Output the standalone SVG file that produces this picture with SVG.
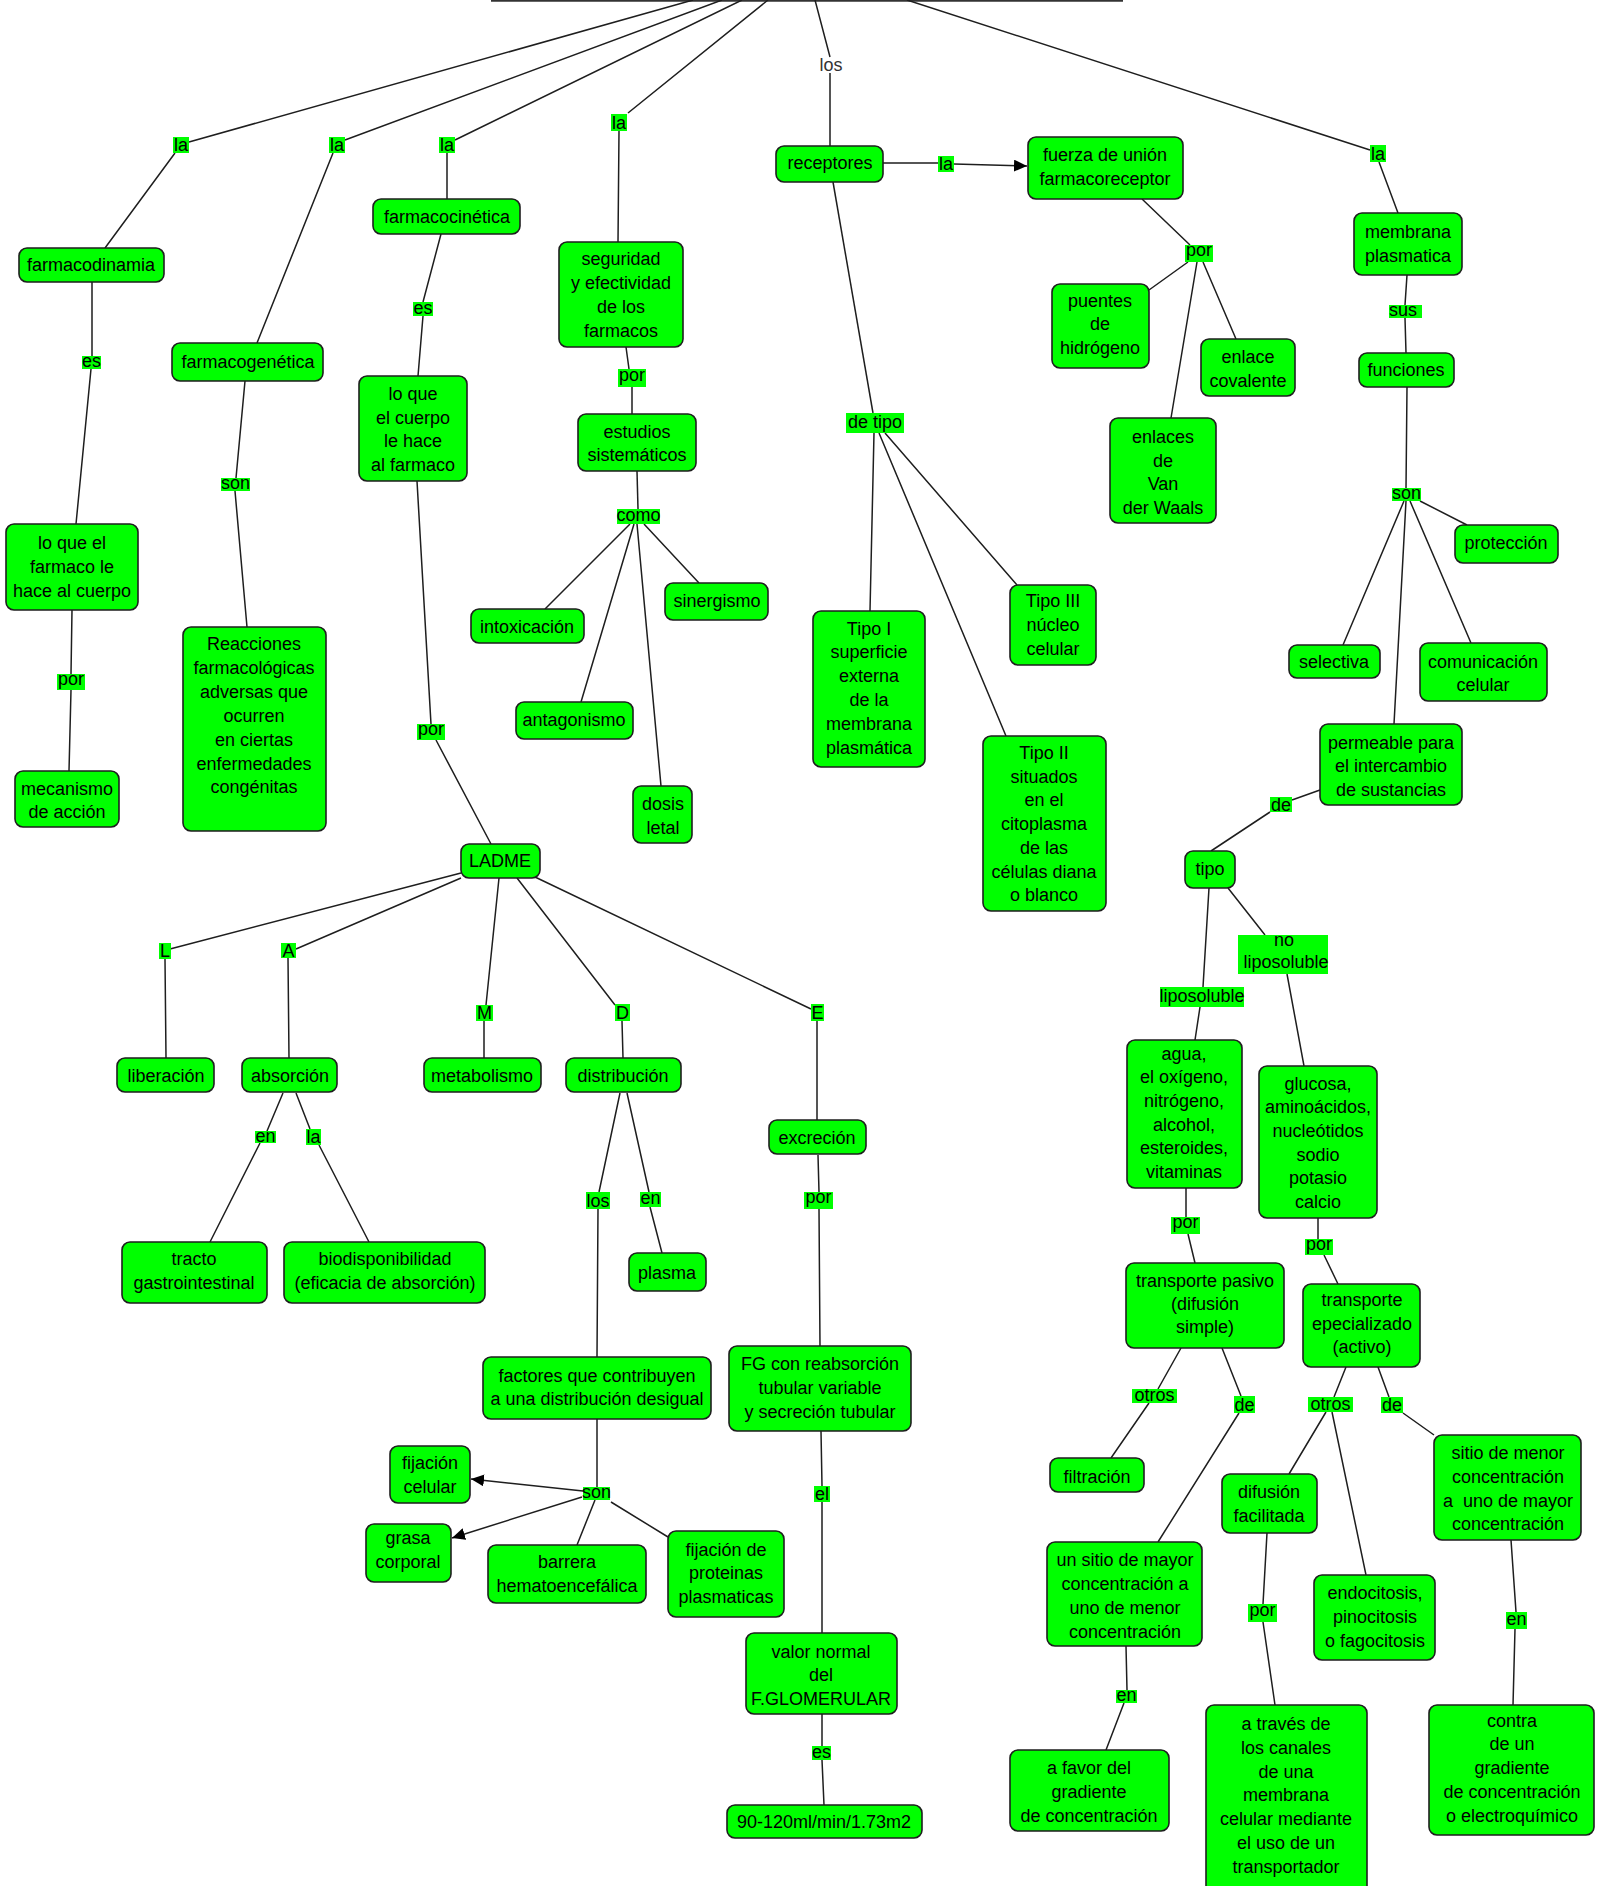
<svg xmlns="http://www.w3.org/2000/svg" width="1599" height="1886" viewBox="0 0 1599 1886">
<defs>
<style>
.n rect{fill:#00ff00;stroke:#1e1e1e;stroke-width:1.6}
text{font-family:"Liberation Sans",Arial,sans-serif;font-size:18px;fill:#000;text-anchor:middle}
.lb rect{fill:#00ff00}
.c path{stroke:#1e1e1e;stroke-width:1.5;fill:none}
.pre{white-space:pre}
</style>
<marker id="ah" markerUnits="userSpaceOnUse" markerWidth="14" markerHeight="12" refX="13" refY="6" orient="auto"><path d="M0,0 L13,6 L0,12 z" fill="#000"/></marker>
</defs>
<rect width="1599" height="1886" fill="#fff"/>
<g id="root"><path d="M491 0.8 H1123" stroke="#333" stroke-width="2"/></g>
<g class="c" id="connectors">
<path d="M175 153 L105 248 M189 142 L693 0"/>
<path d="M333 153 L257 343 M345 140 L722 0"/>
<path d="M447 153 L447 199 M455 140 L742 0"/>
<path d="M619 131 L618 242 M628 113 L768 0"/>
<path d="M815 0 L830 57 M830 73 L830 146"/>
<path d="M907 0 L1370 150 M1379 162 L1398 213"/>
<path d="M883 163 L938 163"/>
<path d="M954 164 L1027 166" marker-end="url(#ah)"/>
<path d="M92 282 L92 356 M91 369 L76 524"/>
<path d="M72 610 L71 674 M71 690 L69 771"/>
<path d="M245 381 L236 478 M235 491 L247 627"/>
<path d="M441 234 L423 302 M423 316 L418 376"/>
<path d="M417 481 L431 724 M436 740 L491 844"/>
<path d="M626 347 L629 369 M632 387 L632 414"/>
<path d="M637 471 L638 509"/>
<path d="M630 524 L545 609 M634 524 L581 702 M637 524 L661 786 M644 524 L699 583"/>
<path d="M833 182 L873 413"/>
<path d="M874 433 L870 611 M879 433 L1006 736 M885 433 L1017 585"/>
<path d="M1142 199 L1190 245 M1188 262 L1149 290 M1203 262 L1236 339 M1197 262 L1171 418"/>
<path d="M1407 275 L1405 305 M1405 318 L1406 353 M1407 387 L1406 488"/>
<path d="M1420 501 L1467 525 M1404 501 L1343 645 M1406 501 L1394 724 M1410 501 L1471 643"/>
<path d="M1320 790 L1292 800 M1270 812 L1211 851"/>
<path d="M1209 888 L1203 987 M1228 888 L1265 935"/>
<path d="M1200 1007 L1195 1040 M1287 974 L1304 1066"/>
<path d="M1186 1188 L1186 1217 M1188 1234 L1195 1263"/>
<path d="M1318 1218 L1318 1239 M1324 1255 L1338 1284"/>
<path d="M1181 1348 L1158 1389 M1149 1403 L1111 1458"/>
<path d="M1222 1348 L1241 1396 M1239 1413 L1158 1542"/>
<path d="M1126 1646 L1127 1690 M1124 1703 L1106 1750"/>
<path d="M1346 1367 L1334 1397 M1326 1412 L1289 1474 M1332 1412 L1366 1575"/>
<path d="M1378 1367 L1389 1397 M1403 1413 L1434 1435"/>
<path d="M1267 1533 L1263 1604 M1263 1622 L1275 1705"/>
<path d="M1511 1540 L1516 1612 M1515 1629 L1513 1705"/>
<path d="M461 873 L170 949 M165 959 L166 1058"/>
<path d="M461 878 L296 949 M288 958 L289 1058"/>
<path d="M499 878 L486 1005 M484 1021 L484 1058"/>
<path d="M517 878 L615 1005 M622 1021 L623 1058"/>
<path d="M535 877 L811 1009 M817 1021 L817 1120"/>
<path d="M283 1093 L267 1131 M260 1143 L210 1242"/>
<path d="M296 1093 L310 1129 M319 1145 L369 1242"/>
<path d="M620 1093 L599 1192 M598 1209 L597 1357"/>
<path d="M627 1093 L649 1192 M650 1207 L662 1253"/>
<path d="M818 1155 L819 1192 M819 1209 L820 1346"/>
<path d="M821 1431 L822 1486 M822 1502 L822 1633"/>
<path d="M822 1714 L822 1746 M822 1760 L824 1805"/>
<path d="M597 1419 L597 1487"/>
<path d="M583 1491 L471 1479" marker-end="url(#ah)"/>
<path d="M582 1497 L452 1538" marker-end="url(#ah)"/>
<path d="M595 1500 L577 1545 M611 1502 L668 1537"/>
</g>
<g class="lb" id="labels">
<text x="831" y="71" style="fill:#333">los</text>
<rect x="173" y="137" width="16" height="16"/><text x="181" y="151">la</text>
<rect x="329" y="137" width="16" height="16"/><text x="337" y="151">la</text>
<rect x="439" y="137" width="16" height="16"/><text x="447" y="151">la</text>
<rect x="611" y="114" width="16" height="17"/><text x="619" y="129">la</text>
<rect x="938" y="156" width="16" height="16"/><text x="946" y="170">la</text>
<rect x="1370" y="145" width="16" height="17"/><text x="1378" y="160">la</text>
<rect x="82" y="356" width="19" height="13"/><text x="91.5" y="367">es</text>
<rect x="413" y="302" width="20" height="14"/><text x="423" y="314">es</text>
<rect x="221" y="478" width="29" height="13"/><text x="235.5" y="489">son</text>
<rect x="57" y="674" width="28" height="16"/><text x="71" y="685">por</text>
<rect x="417" y="724" width="28" height="16"/><text x="431" y="735">por</text>
<rect x="618" y="369" width="28" height="18"/><text x="632" y="381">por</text>
<rect x="1185" y="245" width="28" height="17"/><text x="1199" y="256">por</text>
<rect x="846" y="413" width="58" height="20"/><text x="875" y="428">de tipo</text>
<rect x="617" y="509" width="43" height="15"/><text x="638.5" y="521">como</text>
<rect x="1389" y="305" width="33" height="13"/><text x="1403" y="316">sus</text>
<rect x="1392" y="488" width="29" height="13"/><text x="1406.5" y="499">son</text>
<rect x="1270" y="797" width="22" height="15"/><text x="1281" y="811">de</text>
<rect x="1160" y="987" width="84" height="20"/><text x="1202" y="1002">liposoluble</text>
<rect x="1238" y="935" width="90" height="39"/><text x="1284" y="946">no</text><text x="1286" y="968">liposoluble</text>
<rect x="1171" y="1217" width="29" height="17"/><text x="1185.5" y="1228">por</text>
<rect x="1305" y="1239" width="28" height="16"/><text x="1319" y="1250">por</text>
<rect x="1132" y="1389" width="45" height="14"/><text x="1154.5" y="1401">otros</text>
<rect x="1234" y="1396" width="21" height="17"/><text x="1244.5" y="1411">de</text>
<rect x="1308" y="1397" width="45" height="15"/><text x="1330.5" y="1410">otros</text>
<rect x="1381" y="1397" width="22" height="16"/><text x="1392" y="1411">de</text>
<rect x="1116" y="1690" width="21" height="13"/><text x="1126.5" y="1701">en</text>
<rect x="1248" y="1604" width="29" height="18"/><text x="1262.5" y="1616">por</text>
<rect x="1506" y="1612" width="21" height="17"/><text x="1516.5" y="1625">en</text>
<rect x="159" y="943" width="12" height="16"/><text x="165" y="957">L</text>
<rect x="281" y="943" width="15" height="15"/><text x="288.5" y="957">A</text>
<rect x="476" y="1005" width="17" height="16"/><text x="484.5" y="1019">M</text>
<rect x="615" y="1004" width="15" height="17"/><text x="622.5" y="1019">D</text>
<rect x="811" y="1004" width="13" height="17"/><text x="817.5" y="1019">E</text>
<rect x="255" y="1131" width="21" height="12"/><text x="265.5" y="1142">en</text>
<rect x="306" y="1129" width="15" height="16"/><text x="313.5" y="1143">la</text>
<rect x="586" y="1192" width="24" height="17"/><text x="598" y="1207">los</text>
<rect x="640" y="1192" width="21" height="15"/><text x="650.5" y="1204">en</text>
<rect x="804" y="1192" width="29" height="17"/><text x="818.5" y="1203">por</text>
<rect x="583" y="1487" width="27" height="13"/><text x="596.5" y="1498">son</text>
<rect x="814" y="1486" width="16" height="16"/><text x="822" y="1500">el</text>
<rect x="812" y="1746" width="19" height="14"/><text x="821.5" y="1758">es</text>
</g>
<g class="n" id="n-farmacodinamia"><rect x="19" y="248" width="145" height="34" rx="8"/><text><tspan x="91" y="271">farmacodinamia</tspan></text></g>
<g class="n" id="n-farmacogenetica"><rect x="172" y="343" width="151" height="38" rx="8"/><text><tspan x="248" y="368">farmacogenética</tspan></text></g>
<g class="n" id="n-farmacocinetica"><rect x="373" y="199" width="147" height="35" rx="8"/><text><tspan x="447" y="223">farmacocinética</tspan></text></g>
<g class="n" id="n-cuerpo"><rect x="359" y="376" width="108" height="105" rx="8"/><text><tspan x="413" y="400">lo que</tspan><tspan x="413" y="424">el cuerpo</tspan><tspan x="413" y="447">le hace</tspan><tspan x="413" y="471">al farmaco</tspan></text></g>
<g class="n" id="n-farmaco"><rect x="6" y="524" width="132" height="86" rx="8"/><text><tspan x="72" y="549">lo que el</tspan><tspan x="72" y="573">farmaco le</tspan><tspan x="72" y="597">hace al cuerpo</tspan></text></g>
<g class="n" id="n-mecanismo"><rect x="15" y="771" width="104" height="56" rx="8"/><text><tspan x="67" y="795">mecanismo</tspan><tspan x="67" y="818">de acción</tspan></text></g>
<g class="n" id="n-reacciones"><rect x="183" y="627" width="143" height="204" rx="8"/><text><tspan x="254" y="650">Reacciones</tspan><tspan x="254" y="674">farmacológicas</tspan><tspan x="254" y="698">adversas que</tspan><tspan x="254" y="722">ocurren</tspan><tspan x="254" y="746">en ciertas</tspan><tspan x="254" y="770">enfermedades</tspan><tspan x="254" y="793">congénitas</tspan></text></g>
<g class="n" id="n-seguridad"><rect x="559" y="242" width="124" height="105" rx="8"/><text><tspan x="621" y="265">seguridad</tspan><tspan x="621" y="289">y efectividad</tspan><tspan x="621" y="313">de los</tspan><tspan x="621" y="337">farmacos</tspan></text></g>
<g class="n" id="n-estudios"><rect x="578" y="414" width="118" height="57" rx="8"/><text><tspan x="637" y="438">estudios</tspan><tspan x="637" y="461">sistemáticos</tspan></text></g>
<g class="n" id="n-receptores"><rect x="776" y="146" width="107" height="36" rx="8"/><text><tspan x="830" y="169">receptores</tspan></text></g>
<g class="n" id="n-fuerza"><rect x="1028" y="137" width="155" height="62" rx="8"/><text><tspan x="1105" y="161">fuerza de unión</tspan><tspan x="1105" y="185">farmacoreceptor</tspan></text></g>
<g class="n" id="n-puentes"><rect x="1052" y="284" width="97" height="84" rx="8"/><text><tspan x="1100" y="307">puentes</tspan><tspan x="1100" y="330">de</tspan><tspan x="1100" y="354">hidrógeno</tspan></text></g>
<g class="n" id="n-covalente"><rect x="1201" y="339" width="94" height="57" rx="8"/><text><tspan x="1248" y="363">enlace</tspan><tspan x="1248" y="387">covalente</tspan></text></g>
<g class="n" id="n-waals"><rect x="1110" y="418" width="106" height="105" rx="8"/><text><tspan x="1163" y="443">enlaces</tspan><tspan x="1163" y="467">de</tspan><tspan x="1163" y="490">Van</tspan><tspan x="1163" y="514">der Waals</tspan></text></g>
<g class="n" id="n-membrana"><rect x="1354" y="213" width="108" height="62" rx="8"/><text><tspan x="1408" y="238">membrana</tspan><tspan x="1408" y="262">plasmatica</tspan></text></g>
<g class="n" id="n-funciones"><rect x="1359" y="353" width="95" height="34" rx="8"/><text><tspan x="1406" y="376">funciones</tspan></text></g>
<g class="n" id="n-proteccion"><rect x="1455" y="525" width="103" height="38" rx="8"/><text><tspan x="1506" y="549">protección</tspan></text></g>
<g class="n" id="n-selectiva"><rect x="1289" y="645" width="91" height="33" rx="8"/><text><tspan x="1334" y="668">selectiva</tspan></text></g>
<g class="n" id="n-comunicacion"><rect x="1420" y="643" width="127" height="58" rx="8"/><text><tspan x="1483" y="668">comunicación</tspan><tspan x="1483" y="691">celular</tspan></text></g>
<g class="n" id="n-permeable"><rect x="1320" y="724" width="142" height="81" rx="8"/><text><tspan x="1391" y="749">permeable para</tspan><tspan x="1391" y="772">el intercambio</tspan><tspan x="1391" y="796">de sustancias</tspan></text></g>
<g class="n" id="n-tipo"><rect x="1185" y="851" width="50" height="37" rx="8"/><text><tspan x="1210" y="875">tipo</tspan></text></g>
<g class="n" id="n-agua"><rect x="1127" y="1040" width="115" height="148" rx="8"/><text><tspan x="1184" y="1060">agua,</tspan><tspan x="1184" y="1083">el oxígeno,</tspan><tspan x="1184" y="1107">nitrógeno,</tspan><tspan x="1184" y="1131">alcohol,</tspan><tspan x="1184" y="1154">esteroides,</tspan><tspan x="1184" y="1178">vitaminas</tspan></text></g>
<g class="n" id="n-glucosa"><rect x="1259" y="1066" width="118" height="152" rx="8"/><text><tspan x="1318" y="1090">glucosa,</tspan><tspan x="1318" y="1113">aminoácidos,</tspan><tspan x="1318" y="1137">nucleótidos</tspan><tspan x="1318" y="1161">sodio</tspan><tspan x="1318" y="1184">potasio</tspan><tspan x="1318" y="1208">calcio</tspan></text></g>
<g class="n" id="n-pasivo"><rect x="1126" y="1263" width="158" height="85" rx="8"/><text><tspan x="1205" y="1287">transporte pasivo</tspan><tspan x="1205" y="1310">(difusión</tspan><tspan x="1205" y="1333">simple)</tspan></text></g>
<g class="n" id="n-especializado"><rect x="1303" y="1284" width="117" height="83" rx="8"/><text><tspan x="1362" y="1306">transporte</tspan><tspan x="1362" y="1330">epecializado</tspan><tspan x="1362" y="1353">(activo)</tspan></text></g>
<g class="n" id="n-filtracion"><rect x="1050" y="1458" width="94" height="34" rx="8"/><text><tspan x="1097" y="1483">filtración</tspan></text></g>
<g class="n" id="n-mayor"><rect x="1047" y="1542" width="155" height="104" rx="8"/><text><tspan x="1125" y="1566">un sitio de mayor</tspan><tspan x="1125" y="1590">concentración a</tspan><tspan x="1125" y="1614">uno de menor</tspan><tspan x="1125" y="1638">concentración</tspan></text></g>
<g class="n" id="n-favor"><rect x="1010" y="1750" width="159" height="81" rx="8"/><text><tspan x="1089" y="1774">a favor del</tspan><tspan x="1089" y="1798">gradiente</tspan><tspan x="1089" y="1822">de concentración</tspan></text></g>
<g class="n" id="n-difusion"><rect x="1222" y="1474" width="95" height="59" rx="8"/><text><tspan x="1269" y="1498">difusión</tspan><tspan x="1269" y="1522">facilitada</tspan></text></g>
<g class="n" id="n-traves"><rect x="1206" y="1705" width="161" height="190" rx="8"/><text><tspan x="1286" y="1730">a través de</tspan><tspan x="1286" y="1754">los canales</tspan><tspan x="1286" y="1778">de una</tspan><tspan x="1286" y="1801">membrana</tspan><tspan x="1286" y="1825">celular mediante</tspan><tspan x="1286" y="1849">el uso de un</tspan><tspan x="1286" y="1873">transportador</tspan></text></g>
<g class="n" id="n-endocitosis"><rect x="1314" y="1575" width="121" height="85" rx="8"/><text><tspan x="1375" y="1599">endocitosis,</tspan><tspan x="1375" y="1623">pinocitosis</tspan><tspan x="1375" y="1647">o fagocitosis</tspan></text></g>
<g class="n" id="n-menor"><rect x="1434" y="1435" width="147" height="105" rx="8"/><text class="pre"><tspan x="1508" y="1459">sitio de menor</tspan><tspan x="1508" y="1483">concentración</tspan><tspan x="1508" y="1507">a  uno de mayor</tspan><tspan x="1508" y="1530">concentración</tspan></text></g>
<g class="n" id="n-contra"><rect x="1429" y="1705" width="165" height="130" rx="8"/><text><tspan x="1512" y="1727">contra</tspan><tspan x="1512" y="1750">de un</tspan><tspan x="1512" y="1774">gradiente</tspan><tspan x="1512" y="1798">de concentración</tspan><tspan x="1512" y="1822">o electroquímico</tspan></text></g>
<g class="n" id="n-intoxicacion"><rect x="471" y="609" width="113" height="34" rx="8"/><text><tspan x="527" y="633">intoxicación</tspan></text></g>
<g class="n" id="n-antagonismo"><rect x="516" y="702" width="117" height="37" rx="8"/><text><tspan x="574" y="726">antagonismo</tspan></text></g>
<g class="n" id="n-sinergismo"><rect x="665" y="583" width="103" height="37" rx="8"/><text><tspan x="717" y="607">sinergismo</tspan></text></g>
<g class="n" id="n-dosis"><rect x="633" y="786" width="59" height="57" rx="8"/><text><tspan x="663" y="810">dosis</tspan><tspan x="663" y="834">letal</tspan></text></g>
<g class="n" id="n-tipo1"><rect x="813" y="611" width="112" height="156" rx="8"/><text><tspan x="869" y="635">Tipo I</tspan><tspan x="869" y="658">superficie</tspan><tspan x="869" y="682">externa</tspan><tspan x="869" y="706">de la</tspan><tspan x="869" y="730">membrana</tspan><tspan x="869" y="754">plasmática</tspan></text></g>
<g class="n" id="n-tipo2"><rect x="983" y="736" width="123" height="175" rx="8"/><text><tspan x="1044" y="759">Tipo II</tspan><tspan x="1044" y="783">situados</tspan><tspan x="1044" y="806">en el</tspan><tspan x="1044" y="830">citoplasma</tspan><tspan x="1044" y="854">de las</tspan><tspan x="1044" y="878">células diana</tspan><tspan x="1044" y="901">o blanco</tspan></text></g>
<g class="n" id="n-tipo3"><rect x="1010" y="585" width="86" height="80" rx="8"/><text><tspan x="1053" y="607">Tipo III</tspan><tspan x="1053" y="631">núcleo</tspan><tspan x="1053" y="655">celular</tspan></text></g>
<g class="n" id="n-ladme"><rect x="461" y="844" width="79" height="34" rx="8"/><text><tspan x="500" y="867">LADME</tspan></text></g>
<g class="n" id="n-liberacion"><rect x="117" y="1058" width="97" height="34" rx="8"/><text><tspan x="166" y="1082">liberación</tspan></text></g>
<g class="n" id="n-absorcion"><rect x="242" y="1058" width="95" height="34" rx="8"/><text><tspan x="290" y="1082">absorción</tspan></text></g>
<g class="n" id="n-metabolismo"><rect x="424" y="1058" width="117" height="34" rx="8"/><text><tspan x="482" y="1082">metabolismo</tspan></text></g>
<g class="n" id="n-distribucion"><rect x="566" y="1058" width="115" height="34" rx="8"/><text><tspan x="623" y="1082">distribución</tspan></text></g>
<g class="n" id="n-excrecion"><rect x="769" y="1120" width="97" height="34" rx="8"/><text><tspan x="817" y="1144">excreción</tspan></text></g>
<g class="n" id="n-tracto"><rect x="122" y="1242" width="145" height="61" rx="8"/><text><tspan x="194" y="1265">tracto</tspan><tspan x="194" y="1289">gastrointestinal</tspan></text></g>
<g class="n" id="n-bio"><rect x="284" y="1242" width="201" height="61" rx="8"/><text><tspan x="385" y="1265">biodisponibilidad</tspan><tspan x="385" y="1289">(eficacia de absorción)</tspan></text></g>
<g class="n" id="n-plasma"><rect x="629" y="1253" width="77" height="38" rx="8"/><text><tspan x="667" y="1279">plasma</tspan></text></g>
<g class="n" id="n-factores"><rect x="483" y="1357" width="228" height="62" rx="8"/><text><tspan x="597" y="1382">factores que contribuyen</tspan><tspan x="597" y="1405">a una distribución desigual</tspan></text></g>
<g class="n" id="n-fg"><rect x="729" y="1346" width="182" height="85" rx="8"/><text><tspan x="820" y="1370">FG con reabsorción</tspan><tspan x="820" y="1394">tubular variable</tspan><tspan x="820" y="1418">y secreción tubular</tspan></text></g>
<g class="n" id="n-fijacion"><rect x="390" y="1446" width="80" height="57" rx="8"/><text><tspan x="430" y="1469">fijación</tspan><tspan x="430" y="1493">celular</tspan></text></g>
<g class="n" id="n-grasa"><rect x="366" y="1524" width="85" height="58" rx="8"/><text><tspan x="408" y="1544">grasa</tspan><tspan x="408" y="1568">corporal</tspan></text></g>
<g class="n" id="n-barrera"><rect x="488" y="1545" width="158" height="58" rx="8"/><text><tspan x="567" y="1568">barrera</tspan><tspan x="567" y="1592">hematoencefálica</tspan></text></g>
<g class="n" id="n-proteinas"><rect x="668" y="1531" width="116" height="86" rx="8"/><text><tspan x="726" y="1556">fijación de</tspan><tspan x="726" y="1579">proteinas</tspan><tspan x="726" y="1603">plasmaticas</tspan></text></g>
<g class="n" id="n-valor"><rect x="746" y="1633" width="151" height="81" rx="8"/><text><tspan x="821" y="1658">valor normal</tspan><tspan x="821" y="1681">del</tspan><tspan x="821" y="1705">F.GLOMERULAR</tspan></text></g>
<g class="n" id="n-gfr"><rect x="727" y="1805" width="195" height="33" rx="8"/><text><tspan x="824" y="1828">90-120ml/min/1.73m2</tspan></text></g>
</svg>
